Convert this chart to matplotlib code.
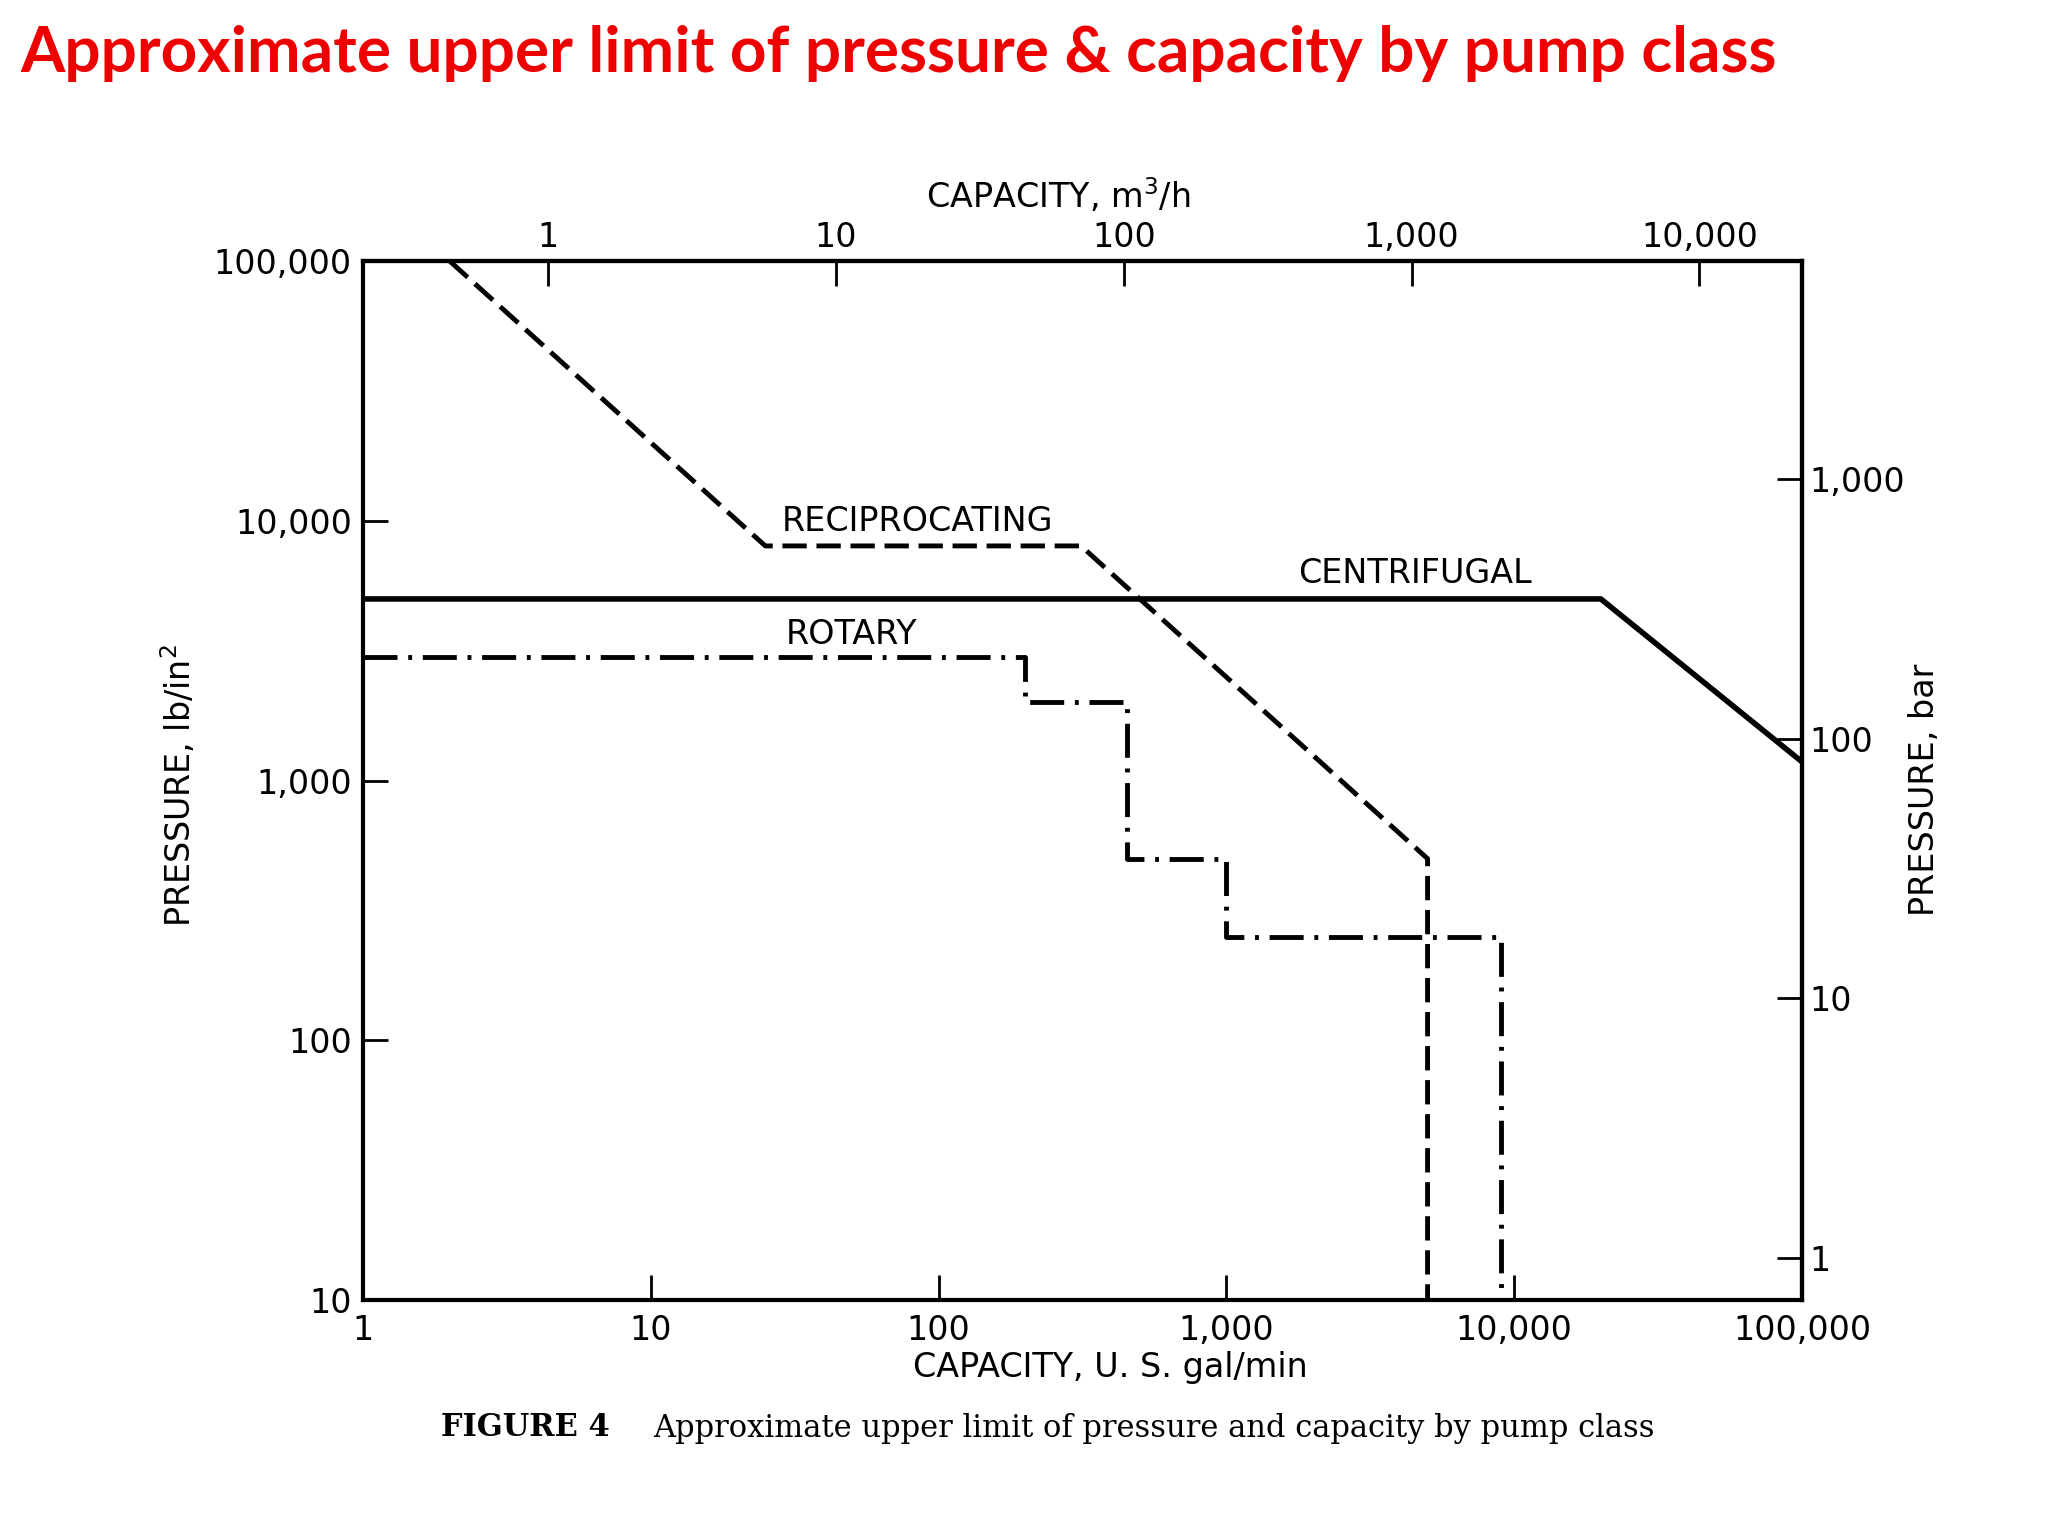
import numpy as np
import matplotlib
matplotlib.use("Agg")
import matplotlib.pyplot as plt
from matplotlib.ticker import FixedLocator, FuncFormatter, NullLocator

# pump class limits, capacity in US gal/min, pressure in lb/in2
recip_gpm = [2, 25, 312.5, 5000, 5000]
recip_psi = [100000, 8000, 8000, 500, 10]

centr_gpm = [1, 20000, 100000]
centr_psi = [5000, 5000, 1180]

rotary_gpm = [1, 200, 200, 450, 450, 1000, 1000, 9000, 9000]
rotary_psi = [3000, 3000, 2000, 2000, 500, 500, 250, 250, 10]

gpm_ticks = [1, 10, 100, 1000, 10000, 100000]
psi_ticks = [10, 100, 1000, 10000, 100000]
m3h_ticks = [1, 10, 100, 1000, 10000]
bar_ticks = [1, 10, 100, 1000]

GPM_PER_M3H = 4.403
PSI_PER_BAR = 14.504

TICK_FS = 24
LABEL_FS = 24

fig = plt.figure(figsize=(20.48, 15.36), dpi=100)
ax = fig.add_axes([363 / 2048, 1 - 1300 / 1536, (1802 - 363) / 2048, (1300 - 261) / 1536])
ax.set_xscale("log")
ax.set_yscale("log")
ax.set_xlim(1, 100000)
ax.set_ylim(10, 100000)

ax.plot(recip_gpm, recip_psi, color="black", lw=3.5, linestyle=(0, (5, 2)))
ax.plot(centr_gpm, centr_psi, color="black", lw=4, solid_capstyle="butt")
ax.plot(rotary_gpm, rotary_psi, color="black", lw=3.5, linestyle=(0, (7, 2.2, 0.8, 2.2)))

ax.text(28.5, 8600, "RECIPROCATING", fontsize=LABEL_FS, va="bottom", ha="left")
ax.text(1780, 5400, "CENTRIFUGAL", fontsize=LABEL_FS, va="bottom", ha="left")
ax.text(29.5, 3150, "ROTARY", fontsize=LABEL_FS, va="bottom", ha="left")

fmt = FuncFormatter(lambda v, p: f"{v:,.0f}")

ax.xaxis.set_major_locator(FixedLocator(gpm_ticks))
ax.xaxis.set_minor_locator(NullLocator())
ax.xaxis.set_major_formatter(fmt)
ax.yaxis.set_major_locator(FixedLocator(psi_ticks))
ax.yaxis.set_minor_locator(NullLocator())
ax.yaxis.set_major_formatter(fmt)
ax.tick_params(axis="both", direction="in", length=18, width=2, pad=8, labelsize=TICK_FS)
ax.tick_params(axis="x", pad=10)

for sp in ax.spines.values():
    sp.set_linewidth(3)

top = ax.secondary_xaxis("top", functions=(lambda x: x / GPM_PER_M3H, lambda x: x * GPM_PER_M3H))
top.xaxis.set_major_locator(FixedLocator(m3h_ticks))
top.xaxis.set_minor_locator(NullLocator())
top.xaxis.set_major_formatter(fmt)
top.tick_params(direction="in", length=18, width=2, pad=5, labelsize=TICK_FS)
top.spines["top"].set_linewidth(3)

right = ax.secondary_yaxis("right", functions=(lambda y: y / PSI_PER_BAR, lambda y: y * PSI_PER_BAR))
right.yaxis.set_major_locator(FixedLocator(bar_ticks))
right.yaxis.set_minor_locator(NullLocator())
right.yaxis.set_major_formatter(fmt)
right.tick_params(direction="in", length=18, width=2, pad=5, labelsize=TICK_FS)
right.spines["right"].set_linewidth(3)

fig.text(1058 / 2048, 1 - 196 / 1536, "CAPACITY, m$^3$/h", fontsize=LABEL_FS, ha="center", va="center")
fig.text(1110 / 2048, 1 - 1368 / 1536, "CAPACITY, U. S. gal/min", fontsize=LABEL_FS, ha="center", va="center")
fig.text(179 / 2048, 1 - 785 / 1536, "PRESSURE, lb/in$^2$", fontsize=LABEL_FS, ha="center", va="center", rotation=90)
fig.text(1924 / 2048, 1 - 790 / 1536, "PRESSURE, bar", fontsize=LABEL_FS, ha="center", va="center", rotation=90)

fig.text(20 / 2048, 1 - 54 / 1536, "Approximate upper limit of pressure & capacity by pump class",
         fontsize=46, fontweight="bold", color="#ee0000", family="Lato", ha="left", va="center")

fig.text(441 / 2048, 1 - 1428 / 1536, "FIGURE 4", fontsize=22, fontweight="bold",
         family="DejaVu Serif", ha="left", va="center")
fig.text(653 / 2048, 1 - 1428 / 1536, "Approximate upper limit of pressure and capacity by pump class",
         fontsize=22, family="DejaVu Serif", ha="left", va="center")

fig.savefig("out.png", dpi=100, facecolor="white")
